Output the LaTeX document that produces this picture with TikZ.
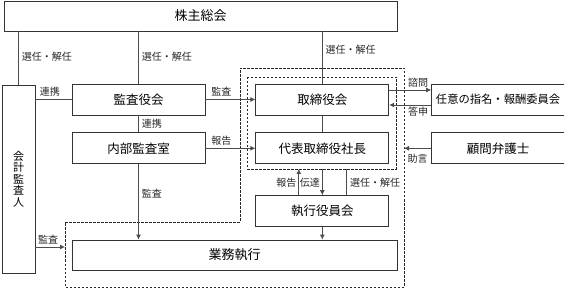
\documentclass[tikz,border=0pt]{standalone}
\usepackage{fontspec}
\setmainfont{Noto Sans CJK JP}
\usepackage{xcolor}
\usepackage{tikz}
\usetikzlibrary{arrows.meta,positioning,calc}
\tikzset{
  obox/.style={draw=black!80, line width=0.8pt, align=center,
               font=\fontsize{12.5}{14}\selectfont,
               minimum width=133pt, minimum height=31pt, inner sep=1pt},
  tag/.style={font=\fontsize{10}{10}\selectfont, inner sep=1pt, text=black!85},
  link/.style={draw=black!70, line width=0.8pt},
  flow/.style={link, -{Latex[length=5pt,width=5pt]}},
  zone/.style={draw=black!85, line width=0.8pt, dash pattern=on 2.5pt off 1.5pt},
}
\begin{document}
\begin{tikzpicture}[x=1pt, y=-1pt, node distance=17pt and 50pt]
  \useasboundingbox (0,0) rectangle (564,288);
  \node[obox, minimum width=393pt, minimum height=30pt, font=\fontsize{13}{14}\selectfont] (kabu) at (200.5,16) {株主総会};
  \node[obox, minimum width=33pt, minimum height=188pt, font=\fontsize{11}{11.5}\selectfont] (kaikei) at (18.5,179) {会\\計\\監\\査\\人};
  \node[obox] (kansa) at (138.5,99.5) {監査役会};
  \node[obox, below=of kansa] (naibu) {内部監査室};
  \node[obox, right=of kansa] (tori) {取締役会};
  \node[obox, below=of tori] (daihyo) {代表取締役社長};
  \node[obox, right=42pt of tori, font=\fontsize{11.3}{13}\selectfont] (nini) {任意の指名・報酬委員会};
  \node[obox, below=of nini] (komon) {顧問弁護士};
  \node[obox, below=31pt of daihyo] (shikko) {執行役員会};
  \node[obox, minimum width=325pt, minimum height=30pt, font=\fontsize{13}{14}\selectfont] (gyomu) at (234.5,255) {業務執行};
  \coordinate (zr) at (404,68);
  \coordinate (zl) at (65,247);
  \coordinate (zb) at (396,169);
  \draw[zone] (65,222) -- (240,222) -- (240,68) -- (zr) -- (404,287) -- (65,287) -- cycle;
  \draw[zone] (247,77) rectangle (zb);
  \draw[link] (kaikei.north) -- (kaikei.north |- kabu.south) node[tag, pos=.52, right=2pt] {選任・解任};
  \draw[link] (kansa.north) -- (kansa.north |- kabu.south) node[tag, pos=.51, right=2pt] {選任・解任};
  \draw[link] (tori.north) -- (tori.north |- kabu.south) node[tag, pos=.64, right=2pt] {選任・解任};
  \draw[link] (kaikei.east |- kansa.west) -- (kansa.west) node[tag, pos=.4, above=2pt] {連携};
  \draw[flow] (kansa.east) -- (tori.west) node[tag, pos=.32, above=2pt] {監査};
  \draw[link] (kansa.south) -- (naibu.north) node[tag, pos=.5, right=2pt] {連携};
  \draw[flow] (naibu.east) -- (daihyo.west) node[tag, pos=.32, above=2pt] {報告};
  \draw[link] (tori.south) -- (daihyo.north);
  \draw[flow] ([yshift=9.5pt]tori.east) -- ([yshift=9.5pt]nini.west) node[tag, pos=.69, above=1pt] {諮問};
  \draw[flow] ([yshift=-5.5pt]nini.west) -- ([yshift=-5.5pt]tori.east) node[tag, pos=.31, below=1pt] {答申};
  \draw[flow] (komon.west) -- (komon.west -| zr) node[tag, pos=.5, below=4pt] {助言};
  \draw[flow] ([xshift=-23.5pt]shikko.north) -- ([xshift=-23.5pt]shikko.north |- zb) node[tag, pos=.48, left=1pt] {報告};
  \draw[flow] (shikko.north |- zb) -- (shikko.north) node[tag, pos=.52, left=1pt] {伝達};
  \draw[link] ([xshift=24.5pt]shikko.north) -- ([xshift=24.5pt]shikko.north |- zb) node[tag, pos=.48, right=2pt] {選任・解任};
  \draw[flow] (shikko.south) -- (shikko.south |- gyomu.north);
  \draw[flow] (naibu.south) -- (naibu.south |- gyomu.north) node[tag, pos=.39, right=2pt] {監査};
  \draw[flow] (kaikei.east |- zl) -- (zl) node[tag, pos=.43, above=2pt] {監査};
\end{tikzpicture}
\end{document}
